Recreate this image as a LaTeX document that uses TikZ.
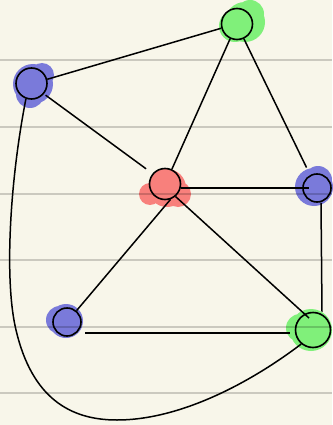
\documentclass[tikz,border=0pt]{standalone}
\definecolor{paper}{RGB}{248,246,234}
\definecolor{gblob}{RGB}{128,240,122}
\definecolor{bblob}{RGB}{122,122,218}
\definecolor{rblob}{RGB}{248,128,124}
\tikzset{
  vert/.style={circle, draw=black, line width=1.6pt, inner sep=0pt, minimum size=#1},
  rule/.style={black, opacity=0.18, line width=2pt},
  edge/.style={black, line width=1.5pt},
}
\begin{document}
\begin{tikzpicture}[x=1pt,y=-1pt]
\fill[paper] (0,0) rectangle (332,425);
\useasboundingbox (0,0) rectangle (332,425);
% blobs
\fill[gblob] (245,22) circle (20) (235,26) circle (16) (250,14) circle (14);
\fill[bblob] (33,84) circle (20) (42,75) circle (12) (30,94) circle (14);
\fill[rblob] (167,188) circle (19) (150,194) circle (11) (178,194) circle (13);
\fill[bblob] (314,187) circle (19) (318,180) circle (14);
\fill[bblob] (66,321) circle (17) (60,320) circle (14);
\fill[gblob] (311,330) circle (21) (300,328) circle (14);
% nodes
\node[vert=31pt, fill=gblob] (tg) at (237,24) {};
\node[vert=31pt, fill=bblob] (lb) at (31.5,83.5) {};
\node[vert=31pt, fill=rblob] (rc) at (165,184) {};
\node[vert=28pt, fill=bblob] (rb) at (317,188) {};
\node[vert=28pt, fill=bblob] (bl) at (67,322) {};
\node[vert=35pt, fill=gblob] (bg) at (313,330) {};
% ruled lines
\foreach \y in {60,127,194,260,327,393} \draw[rule] (0,\y) -- (332,\y);
% edges
\draw[edge] (lb.15) -- (tg.195);
\draw[edge] (tg.245) -- (rc.65);
\draw[edge] (tg.295) -- ([yshift=10pt]rb.north west);
\draw[edge,shorten <=2pt,shorten >=8pt] (lb.320) -- (rc.140);
\draw[edge] (rc.east |- rb.center) -- ([xshift=-8pt]rb.center);
\draw[edge] ([xshift=4pt]rb.south) -- ([xshift=9pt]bg.north);
\draw[edge] (rc.290) -- (bl.50);
\draw[edge] (rc.310) -- ([xshift=-4pt,yshift=12pt]bg.center);
\draw[edge] ([xshift=18pt,yshift=-11pt]bl.center) -- ([xshift=-23pt,yshift=-3pt]bg.center);
\draw[edge] (lb.250) .. controls (10,180) and (4,280) .. (16,330)
  .. controls (32,398) and (70,420) .. (117,420)
  .. controls (180,420) and (250,383) .. (bg.230);
\end{tikzpicture}
\end{document}
